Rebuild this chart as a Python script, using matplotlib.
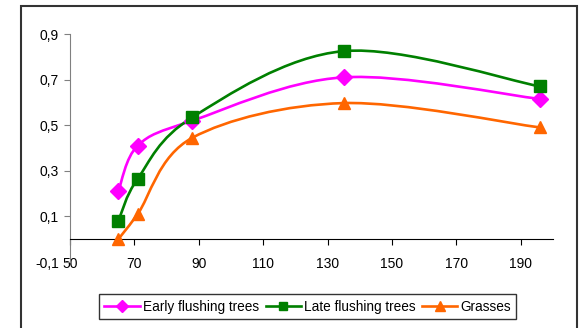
import numpy as np
import matplotlib.pyplot as plt
from matplotlib.path import Path
from matplotlib.patches import PathPatch, Rectangle
from matplotlib.lines import Line2D
from matplotlib.ticker import FuncFormatter

plt.rcParams['font.family'] = ['Liberation Sans', 'DejaVu Sans']

days = [65, 71, 88, 135, 196]
early = [0.21, 0.41, 0.52, 0.71, 0.615]
late = [0.08, 0.265, 0.535, 0.825, 0.67]
grasses = [0.0, 0.11, 0.445, 0.597, 0.49]

series = [
    ('Early flushing trees', early, '#FF00FF', 'D', 8),
    ('Late flushing trees', late, '#008000', 's', 8),
    ('Grasses', grasses, '#FF6600', '^', 9),
]


def smooth_path(x, y):
    # Catmull-Rom segments written as cubic Bezier curves
    pts = np.column_stack([x, y]).astype(float)
    n = len(pts)
    verts = [pts[0]]
    codes = [Path.MOVETO]
    for i in range(n - 1):
        p0 = pts[i - 1] if i > 0 else pts[i]
        p1 = pts[i]
        p2 = pts[i + 1]
        p3 = pts[i + 2] if i + 2 < n else pts[i + 1]
        c1 = p1 + (p2 - p0) / 6.0
        c2 = p2 - (p3 - p1) / 6.0
        verts += [c1, c2, p2]
        codes += [Path.CURVE4] * 3
    return Path(verts, codes)


fig = plt.figure(figsize=(5.8, 3.28), dpi=100)
fig.patches.append(Rectangle((0.036, -0.05), 0.958, 1.032, transform=fig.transFigure,
                             fill=False, edgecolor='#333333', linewidth=1.5))

ax = fig.add_axes([0.1207, 0.2012, 0.8328, 0.6951])
ax.set_xlim(50, 200)
ax.set_ylim(-0.1, 0.9)

handles = []
for name, vals, color, mk, ms in series:
    ax.add_patch(PathPatch(smooth_path(days, vals), fill=False, edgecolor=color,
                           linewidth=1.9, zorder=2))
    ax.plot(days, vals, linestyle='none', marker=mk, markersize=ms, color=color,
            markeredgecolor=color, zorder=3, clip_on=False)
    handles.append(Line2D([], [], color=color, linewidth=1.9, marker=mk,
                          markersize=ms - 2, label=name))

ax.spines['top'].set_visible(False)
ax.spines['right'].set_visible(False)
ax.spines['bottom'].set_position(('data', 0))
ax.spines['bottom'].set_color('black')
ax.spines['left'].set_color('#808080')
ax.spines['left'].set_bounds(-0.1, 0.9)

ax.set_xticks([50, 70, 90, 110, 130, 150, 170, 190])
ax.set_yticks([-0.1, 0.1, 0.3, 0.5, 0.7, 0.9])
ax.yaxis.set_major_formatter(FuncFormatter(lambda v, p: f'{v:.1f}'.replace('.', ',')))
ax.tick_params(axis='both', labelsize=10, length=4, width=0.8, direction='out')
ax.tick_params(axis='y', colors='#808080', labelcolor='black', pad=4)
ax.tick_params(axis='x', pad=9)

ax.legend(handles=handles, loc='center', bbox_to_anchor=(0.492, -0.197), ncol=3,
          fontsize=9.8, frameon=True, fancybox=False, edgecolor='black',
          handlelength=2.6, handletextpad=0.2, columnspacing=0.5, borderpad=0.4,
          borderaxespad=0)

fig.savefig('out.png', dpi=100, facecolor='white')
